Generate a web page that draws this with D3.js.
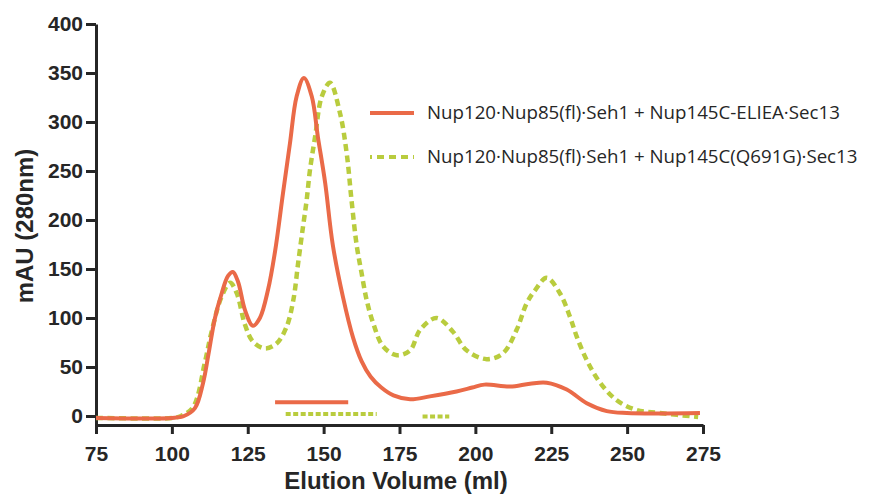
<!DOCTYPE html>
<html>
<head>
<meta charset="utf-8">
<script src="https://cdn.jsdelivr.net/npm/d3@7"></script>
<style>
  body { margin: 0; background: #fff; }
  svg { display: block; }
</style>
</head>
<body>
<svg id="chart" width="870" height="499"></svg>
<script>
// elution volume (ml) and absorbance (mAU)
const elieaVolume = [75, 90, 100, 104, 107.6, 110.3, 112, 114.2, 116.4, 118.5, 120.1, 121.8, 124.1, 126.7, 129, 131.7, 134, 136.6, 138.9, 141.1, 143.5, 146.1, 148.1, 150.5, 153, 156.4, 159.7, 162.5, 165.5, 169, 173, 178.5, 185, 193.8, 199, 203, 211.4, 218, 223.5, 230.1, 236.7, 243.3, 249.9, 260, 274];
const elieaMAU = [-2, -2.5, -2, 0, 8, 34, 62, 100, 125, 143, 147, 137, 108, 92, 100, 129, 168, 227, 278, 326, 345, 326, 285, 238, 175, 121, 80, 56, 40, 29, 21, 17, 20, 25, 29, 32, 30, 33, 34, 27, 13, 5, 3, 2.5, 3];

const q691gVolume = [75, 90, 100, 103, 107, 110.9, 113, 116.4, 119.2, 121.4, 124.1, 126.7, 130.7, 134.5, 137.8, 140, 141.6, 143.2, 144.4, 145.5, 147.2, 149.4, 152.1, 155.4, 157.6, 159.2, 160.9, 162.5, 164.2, 166.3, 169.6, 174.1, 178.5, 181.8, 187.2, 192.6, 197.1, 203.7, 209.1, 213.6, 216.9, 219.6, 223.5, 227.9, 231.2, 233.4, 236.7, 241.1, 246.6, 253.2, 260.8, 273.4];
const q691gMAU = [-2, -2.5, -2, 0, 9, 55, 85, 122, 136, 125, 93, 76, 69, 74, 91, 118, 156, 193, 220, 251, 285, 326, 340, 309, 268, 220, 174, 146, 118, 95, 71, 62, 67, 88, 100, 86, 67, 58, 64, 88, 115, 128, 141, 125, 101, 81, 57, 34, 16, 6, 3, -1];

// pooled fractions: [start ml, end ml, level mAU]
const elieaFractions = [[134, 158.1, 14]];
const q691gFractions = [[137.5, 167.5, 2], [182.6, 191.4, -0.5]];

const seriesNames = [
  "Nup120·Nup85(fl)·Seh1 + Nup145C-ELIEA·Sec13",
  "Nup120·Nup85(fl)·Seh1 + Nup145C(Q691G)·Sec13"
];
const xTicks = [75, 100, 125, 150, 175, 200, 225, 250, 275];
const yTicks = [0, 50, 100, 150, 200, 250, 300, 350, 400];

const orange = "#ea6a48";
const green = "#b9cc3e";
const ink = "#262626";

const svg = d3.select("#chart");

const x = d3.scaleLinear().domain([75, 275]).range([96, 703]);
const y = d3.scaleLinear().domain([-9.2, 400]).range([425, 24]);

const xAxis = svg.append("g")
  .attr("transform", "translate(0,425)")
  .call(d3.axisBottom(x).tickValues(xTicks).tickSize(9).tickPadding(12).tickSizeOuter(0));

const yAxis = svg.append("g")
  .attr("transform", "translate(96,0)")
  .call(d3.axisLeft(y).tickValues(yTicks).tickSize(10).tickPadding(3).tickSizeOuter(0));

[xAxis, yAxis].forEach((g) => {
  g.selectAll("path.domain").attr("stroke", ink).attr("stroke-width", 3);
  g.selectAll(".tick line").attr("stroke", ink).attr("stroke-width", 3);
  g.selectAll(".tick text")
    .attr("fill", ink)
    .style("font-family", "'Liberation Sans', Arial, sans-serif")
    .style("font-weight", "bold")
    .style("font-size", "21px");
});

svg.append("text")
  .attr("x", 396)
  .attr("y", 489)
  .attr("text-anchor", "middle")
  .attr("fill", ink)
  .style("font-family", "'Liberation Sans', Arial, sans-serif")
  .style("font-weight", "bold")
  .style("font-size", "24px")
  .text("Elution Volume (ml)");

svg.append("text")
  .attr("transform", "translate(33,226) rotate(-90)")
  .attr("text-anchor", "middle")
  .attr("fill", ink)
  .style("font-family", "'Liberation Sans', Arial, sans-serif")
  .style("font-weight", "bold")
  .style("font-size", "24px")
  .text("mAU (280nm)");

const line = d3.line()
  .x((d) => x(d[0]))
  .y((d) => y(d[1]))
  .curve(d3.curveCatmullRom.alpha(0.5));

const q691g = d3.zip(q691gVolume, q691gMAU);
const eliea = d3.zip(elieaVolume, elieaMAU);

svg.append("path")
  .datum(q691g)
  .attr("fill", "none")
  .attr("stroke", green)
  .attr("stroke-width", 4.5)
  .attr("stroke-dasharray", "7,4.5")
  .attr("d", line);

svg.append("path")
  .datum(eliea)
  .attr("fill", "none")
  .attr("stroke", orange)
  .attr("stroke-width", 4)
  .attr("d", line);

// fraction bars
svg.selectAll("line.frac-eliea")
  .data(elieaFractions)
  .join("line")
  .attr("class", "frac-eliea")
  .attr("x1", (d) => x(d[0]))
  .attr("x2", (d) => x(d[1]))
  .attr("y1", (d) => y(d[2]))
  .attr("y2", (d) => y(d[2]))
  .attr("stroke", orange)
  .attr("stroke-width", 4);

svg.selectAll("line.frac-q691g")
  .data(q691gFractions)
  .join("line")
  .attr("class", "frac-q691g")
  .attr("x1", (d) => x(d[0]))
  .attr("x2", (d) => x(d[1]))
  .attr("y1", (d) => y(d[2]))
  .attr("y2", (d) => y(d[2]))
  .attr("stroke", green)
  .attr("stroke-width", 4)
  .attr("stroke-dasharray", "5,2.5");

// legend
const legend = svg.append("g");
const legendRows = [
  { name: seriesNames[0], color: orange, dash: null, y: 113 },
  { name: seriesNames[1], color: green, dash: "7,5", y: 157 }
];
legendRows.forEach((r) => {
  legend.append("line")
    .attr("x1", 370).attr("x2", 414)
    .attr("y1", r.y).attr("y2", r.y)
    .attr("stroke", r.color)
    .attr("stroke-width", 4)
    .attr("stroke-dasharray", r.dash)
    .attr("stroke-dashoffset", r.dash ? 5 : null);
  legend.append("text")
    .attr("x", 427)
    .attr("y", r.y + 6)
    .attr("fill", ink)
    .style("font-family", "'Open Sans', 'Noto Sans', sans-serif")
    .style("font-size", "18.7px")
    .text(r.name);
});
</script>
</body>
</html>
